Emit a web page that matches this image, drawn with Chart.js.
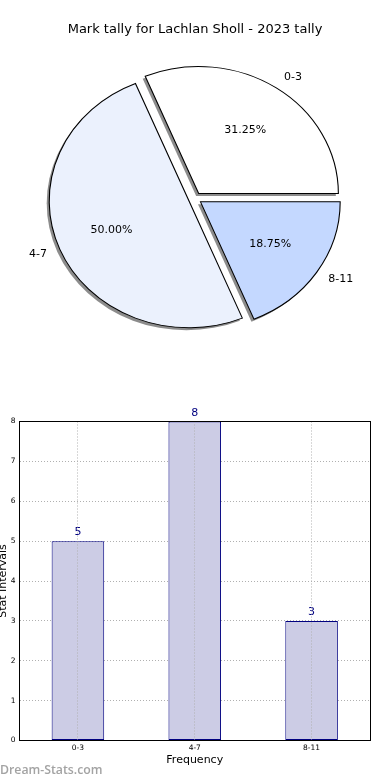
<!DOCTYPE html>
<html>
<head>
<meta charset="utf-8">
<title>Mark tally for Lachlan Sholl - 2023 tally</title>
<script src="https://cdn.jsdelivr.net/npm/chart.js@4.4.1/dist/chart.umd.min.js"></script>
<style>
  html, body { margin: 0; padding: 0; background: #fff; }
  #pagina { position: relative; width: 390px; height: 780px; overflow: hidden; }
  #tarta { position: absolute; left: 0; top: 0; }
  #barras { position: absolute; left: -5px; top: 395px; }
  #marca { position: absolute; left: 0; top: 762px; font: 600 12.3px "Open Sans"; line-height: 16px; color: #a3a3a3; }
</style>
</head>
<body>
<div id="pagina">
  <canvas id="tarta" width="390" height="390"></canvas>
  <canvas id="barras" width="395" height="385"></canvas>
  <div id="marca">Dream-Stats.com</div>
</div>
<script>
var titulo = 'Mark tally for Lachlan Sholl - 2023 tally'
var categorias = ['0-3', '4-7', '8-11']
var cantidades = [5, 8, 3]
var yTicks = [0, 1, 2, 3, 4, 5, 6, 7, 8]

var ESCALA_X = 1.1   // la tarta es una elipse, mas ancha que alta
var SEPARACION = 6   // explode de cada porcion

Chart.defaults.font.family = '"DejaVu Sans", sans-serif'

// la tarta va en sentido horario desde las 3, asi que se invierte el orden
var ordenTarta = [2, 1, 0]
var total = cantidades.reduce(function (a, b) { return a + b }, 0)

function transformar(ctx, cx, cy) {
    ctx.translate(cx, cy)
    ctx.scale(ESCALA_X, 1)
    ctx.translate(-cx, -cy)
}

var elipse = {
    id: 'elipse',
    afterDatasetsUpdate: function (chart) {
        var area = chart.chartArea
        var cx = (area.left + area.right) / 2
        var cy = (area.top + area.bottom) / 2
        chart.getDatasetMeta(0).data.forEach(function (arco) {
            var medio = (arco.startAngle + arco.endAngle) / 2
            arco.x = cx + Math.cos(medio) * SEPARACION
            arco.y = cy + Math.sin(medio) * SEPARACION
        })
    },
    beforeDatasetsDraw: function (chart) {
        var ctx = chart.ctx
        var area = chart.chartArea
        var cx = (area.left + area.right) / 2
        var cy = (area.top + area.bottom) / 2
        // sombra
        ctx.save()
        ctx.translate(-2.5, 2.5)
        transformar(ctx, cx, cy)
        ctx.fillStyle = 'rgba(0, 0, 0, 0.45)'
        chart.getDatasetMeta(0).data.forEach(function (arco) {
            ctx.beginPath()
            ctx.moveTo(arco.x, arco.y)
            ctx.arc(arco.x, arco.y, arco.outerRadius, arco.startAngle, arco.endAngle)
            ctx.closePath()
            ctx.fill()
        })
        ctx.restore()
        ctx.save()
        transformar(ctx, cx, cy)
    },
    afterDatasetsDraw: function (chart) {
        var ctx = chart.ctx
        ctx.restore()
        var area = chart.chartArea
        var cx = (area.left + area.right) / 2
        var datos = chart.data.datasets[0].data
        ctx.save()
        ctx.font = '11px "DejaVu Sans"'
        ctx.fillStyle = '#000'
        ctx.textBaseline = 'middle'
        chart.getDatasetMeta(0).data.forEach(function (arco, i) {
            var medio = (arco.startAngle + arco.endAngle) / 2
            var r = arco.outerRadius
            var dx = Math.cos(medio)
            var dy = Math.sin(medio)
            var px = cx + ESCALA_X * (arco.x - cx + dx * 0.6 * r)
            var py = arco.y + dy * 0.6 * r
            ctx.textAlign = 'center'
            ctx.fillText((datos[i] / total * 100).toFixed(2) + '%', px, py)
            var lx = cx + ESCALA_X * (arco.x - cx + dx * 1.1 * r)
            var ly = arco.y + dy * 1.1 * r
            ctx.textAlign = dx >= 0 ? 'left' : 'right'
            ctx.fillText(chart.data.labels[i], lx, ly)
        })
        ctx.restore()
    }
}

new Chart('tarta', {
    type: 'pie',
    data: {
        labels: ordenTarta.map(function (i) { return categorias[i] }),
        datasets: [{
            data: ordenTarta.map(function (i) { return cantidades[i] }),
            backgroundColor: ['#c4d8ff', '#ebf1fd', '#ffffff'],
            borderColor: '#000',
            borderWidth: 1,
            borderJoinStyle: 'miter'
        }]
    },
    options: {
        responsive: false,
        animation: false,
        devicePixelRatio: 1,
        events: [],
        rotation: 90,
        radius: 127,
        clip: false,
        layout: { padding: { top: 0, bottom: 40.6, left: 0, right: 0 } },
        plugins: {
            legend: { display: false },
            tooltip: { enabled: false },
            title: {
                display: true,
                text: titulo,
                color: '#000',
                font: { size: 13, weight: 'normal' },
                padding: { top: 22, bottom: 10 }
            }
        }
    },
    plugins: [elipse]
})

var marco = {
    id: 'marco',
    afterDraw: function (chart) {
        var ctx = chart.ctx
        var a = chart.chartArea
        ctx.save()
        ctx.strokeStyle = '#000'
        ctx.lineWidth = 1
        ctx.strokeRect(Math.floor(a.left) + 0.5, Math.floor(a.top) + 0.5,
            Math.round(a.right - a.left), Math.round(a.bottom - a.top))
        ctx.restore()
    }
}

var valores = {
    id: 'valores',
    afterDatasetsDraw: function (chart) {
        var ctx = chart.ctx
        var datos = chart.data.datasets[0].data
        ctx.save()
        ctx.font = '11px "DejaVu Sans"'
        ctx.fillStyle = '#000080'
        ctx.textAlign = 'center'
        ctx.textBaseline = 'bottom'
        chart.getDatasetMeta(0).data.forEach(function (barra, i) {
            ctx.fillText(datos[i], barra.x, barra.y - 3)
        })
        ctx.restore()
    }
}

new Chart('barras', {
    type: 'bar',
    data: {
        labels: categorias,
        datasets: [{
            data: cantidades,
            backgroundColor: '#ccccE5',
            borderColor: '#000080',
            borderWidth: 1,
            borderSkipped: false,
            barPercentage: 0.45,
            categoryPercentage: 1
        }]
    },
    options: {
        responsive: false,
        animation: false,
        devicePixelRatio: 1,
        events: [],
        layout: { padding: { top: 26.5, right: 20, bottom: 0, left: 0 } },
        plugins: {
            legend: { display: false },
            tooltip: { enabled: false }
        },
        scales: {
            x: {
                // lineas verticales por encima de las barras, como en el original
                grid: { offset: false, color: '#b0b0b0', drawTicks: false, z: 1 },
                border: { display: true, color: '#000', dash: [1, 2], z: 2 },
                ticks: { color: '#000', font: { size: 7.5 }, padding: 3 },
                title: {
                    display: true, text: 'Frequency', color: '#000',
                    font: { size: 11 }, padding: { top: 0, bottom: 13 }
                },
                afterFit: function (escala) { escala.height = 39.5 }
            },
            y: {
                min: yTicks[0],
                max: yTicks[yTicks.length - 1],
                grid: { color: '#b0b0b0', drawTicks: false },
                border: { display: true, color: '#000', dash: [1, 2] },
                ticks: { stepSize: 1, color: '#000', font: { size: 7.5 }, padding: 4 },
                title: {
                    display: true, text: 'Stat Intervals', color: '#000',
                    font: { size: 11 }, padding: { top: 2, bottom: 0 }
                },
                afterFit: function (escala) { escala.width = 24.5 }
            }
        }
    },
    plugins: [marco, valores]
})
</script>
</body>
</html>
